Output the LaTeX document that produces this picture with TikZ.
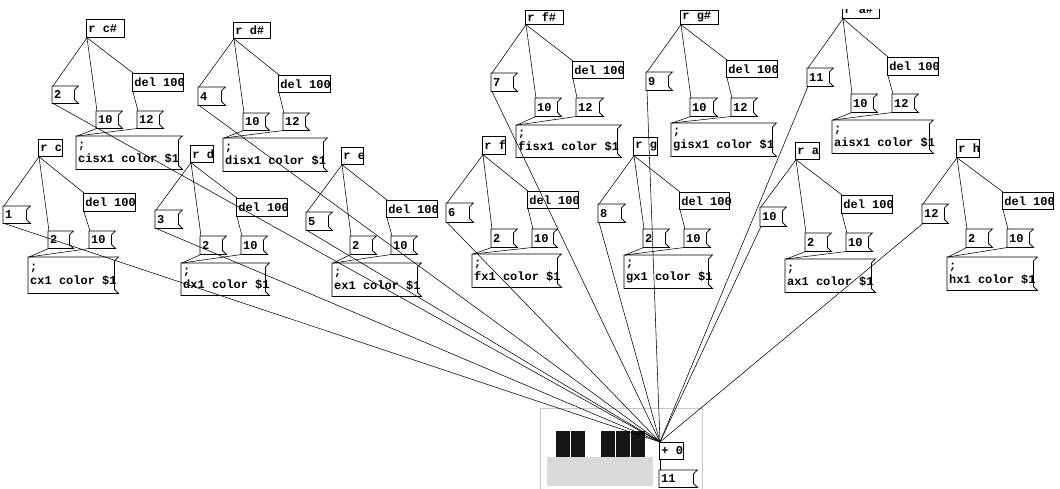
\documentclass[tikz,border=0pt]{standalone}
\usepackage{fontspec}
\newfontfamily\pdfont{Liberation Mono}
\definecolor{keycol}{HTML}{151515}
\definecolor{gopgray}{HTML}{C8C8C8}
\definecolor{fillgray}{HTML}{DADADA}
\newcommand\ps{\hbox to 0.6em{}}
\newcommand\pdbox[7]{%
  \pgfmathsetmacro\pdw{#5-#3}%
  \pgfmathsetmacro\pdh{#6-#4}%
  \pgfmathsetmacro\pdtw{#5-#3-4}%
  \node[#1, minimum width=\pdw pt, minimum height=\pdh pt, text width=\pdtw pt, anchor=north west] (#2) at (#3,#4) {#7};}
\newcommand\wire[2]{\draw[wire] ([xshift=1pt]#1.south west) -- ([xshift=1pt]#2.north west);}
\newcommand\pdgroup[1]{%
  \wire{r#1}{n#1}\wire{r#1}{v#1}\wire{r#1}{d#1}\wire{d#1}{w#1}%
  \wire{v#1}{m#1}\wire{w#1}{m#1}\wire{n#1}{plus}}
\begin{document}
\begin{tikzpicture}[x=1pt,y=-1pt,
  boxline/.style={draw=black, line width=0.75pt},
  pdtext/.style={font=\pdfont\bfseries\fontsize{12}{14}\selectfont, inner xsep=2pt, inner ysep=0pt, align=left, text=black},
  obj/.style={pdtext, draw=black, line width=0.75pt},
  flag/.style={pdtext, append after command={\pgfextra{\draw[boxline] (\tikzlastnode.north west) -- (\tikzlastnode.north east) -- ([shift={(-4pt,-4pt)}]\tikzlastnode.north east) -- ([shift={(-4pt,4pt)}]\tikzlastnode.south east) -- (\tikzlastnode.south east) -- (\tikzlastnode.south west) -- cycle;}}},
  wire/.style={draw=black, line width=0.55pt},
  gop/.style={draw=gopgray, line width=0.8pt},
  key/.style={fill=keycol},
  ]
\useasboundingbox[fill=white] (0,0) rectangle (1060,488);
\begin{scope}
\clip (0,9) rectangle (1060,488);
% graph-on-parent canvas
\draw[gop] (540,408) rectangle (702,496);
\fill[fillgray] (547,457) rectangle (653,486);
\foreach \a/\b in {556/570,571/585,601/615,616/630,631/645}
  \fill[key] (\a,431) rectangle (\b,457);
% bottom
\pdbox{obj}{plus}{659}{442}{683}{459}{+\ps0}
\pdbox{flag}{res}{659}{470}{697}{487}{11}
\wire{plus}{res}
% C#
\pdbox{obj}{rcs}{86}{19}{124}{37}{r\ps c\#}
\pdbox{flag}{ncs}{52}{86}{78}{103}{2}
\pdbox{flag}{vcs}{96}{111}{122}{128}{10}
\pdbox{obj}{dcs}{132}{73}{183}{91}{del\ps100}
\pdbox{flag}{wcs}{137}{111}{163}{128}{12}
\pdbox{flag}{mcs}{76}{136}{182}{169}{;\\cisx1\ps color\ps\$1}
% C
\pdbox{obj}{rc}{38}{139}{62}{156}{r\ps c}
\pdbox{flag}{nc}{3}{206}{30}{223}{1}
\pdbox{flag}{vc}{48}{231}{73}{248}{2}
\pdbox{obj}{dc}{83}{193}{135}{211}{del\ps100}
\pdbox{flag}{wc}{89}{231}{115}{248}{10}
\pdbox{flag}{mc}{28}{257}{118}{293}{;\\cx1\ps color\ps\$1}
% D#
\pdbox{obj}{rds}{233}{22}{270}{38}{r\ps d\#}
\pdbox{flag}{nds}{198}{87}{225}{105}{4}
\pdbox{flag}{vds}{243}{113}{269}{130}{10}
\pdbox{obj}{dds}{278}{75}{330}{92}{del\ps100}
\pdbox{flag}{wds}{283}{113}{309}{130}{12}
\pdbox{flag}{mds}{223}{138}{327}{171}{;\\disx1\ps color\ps\$1}
% D
\pdbox{obj}{rd}{190}{145}{213}{162}{r\ps d}
\pdbox{flag}{nd}{155}{210}{182}{228}{3}
\pdbox{flag}{vd}{200}{236}{226}{254}{2}
\pdbox{obj}{dd}{236}{198}{287}{216}{del\ps100}
\pdbox{flag}{wd}{241}{236}{267}{254}{10}
\pdbox{flag}{md}{181}{263}{269}{295}{;\\dx1\ps color\ps\$1}
% E
\pdbox{obj}{re}{341}{147}{363}{164}{r\ps e}
\pdbox{flag}{ne}{306}{212}{332}{230}{5}
\pdbox{flag}{ve}{350}{236}{376}{254}{2}
\pdbox{obj}{de}{386}{200}{437}{217}{del\ps100}
\pdbox{flag}{we}{391}{236}{417}{254}{10}
\pdbox{flag}{me}{332}{263}{421}{296}{;\\ex1\ps color\ps\$1}
% F
\pdbox{obj}{rf}{482}{136}{505}{154}{r\ps f}
\pdbox{flag}{nf}{446}{203}{473}{222}{6}
\pdbox{flag}{vf}{491}{229}{517}{247}{2}
\pdbox{obj}{df}{527}{191}{578}{208}{del\ps100}
\pdbox{flag}{wf}{532}{229}{557}{247}{10}
\pdbox{flag}{mf}{472}{254}{561}{287}{;\\fx1\ps color\ps\$1}
% F#
\pdbox{obj}{rfs}{525}{9.5}{563}{24}{r\ps f\#}
\pdbox{flag}{nfs}{491}{73}{517}{91}{7}
\pdbox{flag}{vfs}{535}{98}{561}{116}{10}
\pdbox{obj}{dfs}{572}{61}{623}{78}{del\ps100}
\pdbox{flag}{wfs}{576}{98}{603}{116}{12}
\pdbox{flag}{mfs}{516}{125}{621}{157}{;\\fisx1\ps color\ps\$1}
% G
\pdbox{obj}{rg}{633}{137}{657}{155}{r\ps g}
\pdbox{flag}{ng}{598}{204}{625}{222}{8}
\pdbox{flag}{vg}{643}{229}{669}{247}{2}
\pdbox{obj}{dg}{679}{192}{729}{209}{del\ps100}
\pdbox{flag}{wg}{684}{229}{710}{247}{10}
\pdbox{flag}{mg}{624}{255}{712}{288}{;\\gx1\ps color\ps\$1}
% G#
\pdbox{obj}{rgs}{680}{9.5}{718}{24}{r\ps g\#}
\pdbox{flag}{ngs}{646}{72}{672}{90}{9}
\pdbox{flag}{vgs}{690}{98}{717}{116}{10}
\pdbox{obj}{dgs}{726}{60}{777}{77}{del\ps100}
\pdbox{flag}{wgs}{731}{98}{757}{116}{12}
\pdbox{flag}{mgs}{671}{123}{776}{156}{;\\gisx1\ps color\ps\$1}
% A
\pdbox{obj}{ra}{795}{142}{819}{159}{r\ps a}
\pdbox{flag}{na}{760}{207}{786}{226}{10}
\pdbox{flag}{va}{805}{233}{831}{251}{2}
\pdbox{obj}{da}{841}{195}{892}{213}{del\ps100}
\pdbox{flag}{wa}{846}{233}{872}{251}{10}
\pdbox{flag}{ma}{785}{259}{875}{292}{;\\ax1\ps color\ps\$1}
% A#
\pdbox{obj}{ras}{842}{1}{879}{18}{r\ps a\#}
\pdbox{flag}{nas}{807}{68}{833}{86}{11}
\pdbox{flag}{vas}{851}{94}{877}{112}{10}
\pdbox{obj}{das}{887}{57}{938}{75}{del\ps100}
\pdbox{flag}{was}{892}{94}{918}{112}{12}
\pdbox{flag}{mas}{832}{120}{933}{153}{;\\aisx1\ps color\ps\$1}
% H
\pdbox{obj}{rh}{956}{139}{979}{157}{r\ps h}
\pdbox{flag}{nh}{922}{204}{948}{223}{12}
\pdbox{flag}{vh}{966}{229}{992}{247}{2}
\pdbox{obj}{dh}{1002}{192}{1053}{209}{del\ps100}
\pdbox{flag}{wh}{1007}{229}{1033}{247}{10}
\pdbox{flag}{mh}{947}{257}{1037}{290}{;\\hx1\ps color\ps\$1}
% connections
\pdgroup{cs}\pdgroup{c}\pdgroup{ds}\pdgroup{d}\pdgroup{e}\pdgroup{f}
\pdgroup{fs}\pdgroup{g}\pdgroup{gs}\pdgroup{a}\pdgroup{as}\pdgroup{h}
\end{scope}
\end{tikzpicture}
\end{document}
